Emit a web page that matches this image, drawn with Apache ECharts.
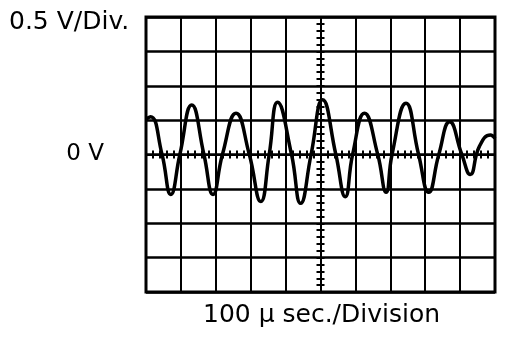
<!DOCTYPE html>
<html>
<head>
<meta charset="utf-8">
<script src="https://cdn.jsdelivr.net/npm/echarts@6/dist/echarts.min.js"></script>
<style>html,body{margin:0;padding:0;background:#fff;}#c{width:512px;height:340px;}</style>
</head>
<body>
<div id="c"></div>
<script>
// time in divisions (100 µs/div), 0 = screen centre: peaks, troughs and zero crossings
const timeDiv = [-5.00, -4.87, -4.54, -4.29, -4.03, -3.69, -3.34, -3.08, -2.81, -2.42, -2.04, -1.71, -1.47, -1.23, -0.83, -0.57, -0.27, 0.06, 0.44, 0.71, 0.92, 1.26, 1.64, 1.88, 2.05, 2.45, 2.81, 3.10, 3.39, 3.70, 4.05, 4.29, 4.55, 4.87, 5.00];
// amplitude in divisions (0.5 V/div)
const voltsDiv = [1.03, 1.10, 0, -1.16, 0, 1.44, 0, -1.16, 0, 1.20, 0, -1.37, 0, 1.52, 0, -1.42, 0, 1.59, 0, -1.23, 0, 1.20, 0, -1.10, 0, 1.49, 0, -1.10, 0, 0.95, 0, -0.58, 0.23, 0.57, 0.47];
const topLabel = '0.5 V/Div.';
const zeroLabel = '0 V';
const bottomLabel = '100 \u03bc sec./Division';

const FONT = 'DejaVu Sans';
const black = '#000';
const data = timeDiv.map((t, i) => [t, voltsDiv[i]]);

const tickStyle = {color: black, width: 2};
function centerX(inside, main) {
  return {
    type: 'value', min: -5, max: 5, interval: 1, position: 'bottom',
    axisLine: {show: main, onZero: true, lineStyle: {color: black, width: 2}},
    axisTick: {show: true, inside: inside, length: 4, lineStyle: tickStyle},
    minorTick: {show: true, splitNumber: 5, length: 4, lineStyle: tickStyle},
    splitLine: {show: main, lineStyle: {color: black, width: 2}},
    axisLabel: {show: false}
  };
}
function centerY(inside, main) {
  return {
    type: 'value', min: -4, max: 4, interval: 1, position: 'left',
    axisLine: {show: main, onZero: true, lineStyle: {color: black, width: 2}},
    axisTick: {show: true, inside: inside, length: 4, lineStyle: tickStyle},
    minorTick: {show: true, splitNumber: 5, length: 4, lineStyle: tickStyle},
    splitLine: {show: main, lineStyle: {color: black, width: 2.5}},
    axisLabel: {show: false}
  };
}

const chart = echarts.init(document.getElementById('c'), null, {renderer: 'canvas'});
chart.setOption({
  animation: false,
  backgroundColor: '#fff',
  title: [
    {text: topLabel, left: 9, top: 10, padding: 0,
     textStyle: {fontFamily: FONT, fontSize: 25, fontWeight: 'normal', color: black}},
    {text: bottomLabel, left: 203, top: 303, padding: 0,
     textStyle: {fontFamily: FONT, fontSize: 25, fontWeight: 'normal', color: black}}
  ],
  grid: {left: 146, top: 17, width: 349, height: 275, show: true, borderColor: black, borderWidth: 3, containLabel: false},
  xAxis: [centerX(false, true), centerX(true, false)],
  yAxis: [
    centerY(false, true),
    centerY(true, false),
    {type: 'value', min: -4, max: 4, interval: 1, position: 'left',
     axisLine: {show: false, onZero: false}, axisTick: {show: false}, splitLine: {show: false},
     axisLabel: {show: true, margin: 42, fontFamily: FONT, fontSize: 23, color: black,
       formatter: v => (v === 0 ? zeroLabel : '')}}
  ],
  series: [{
    type: 'line', xAxisIndex: 0, yAxisIndex: 0, data: data,
    smooth: 0.5, showSymbol: false, symbol: 'none',
    lineStyle: {color: black, width: 3.5}
  }]
});
</script>
</body>
</html>
